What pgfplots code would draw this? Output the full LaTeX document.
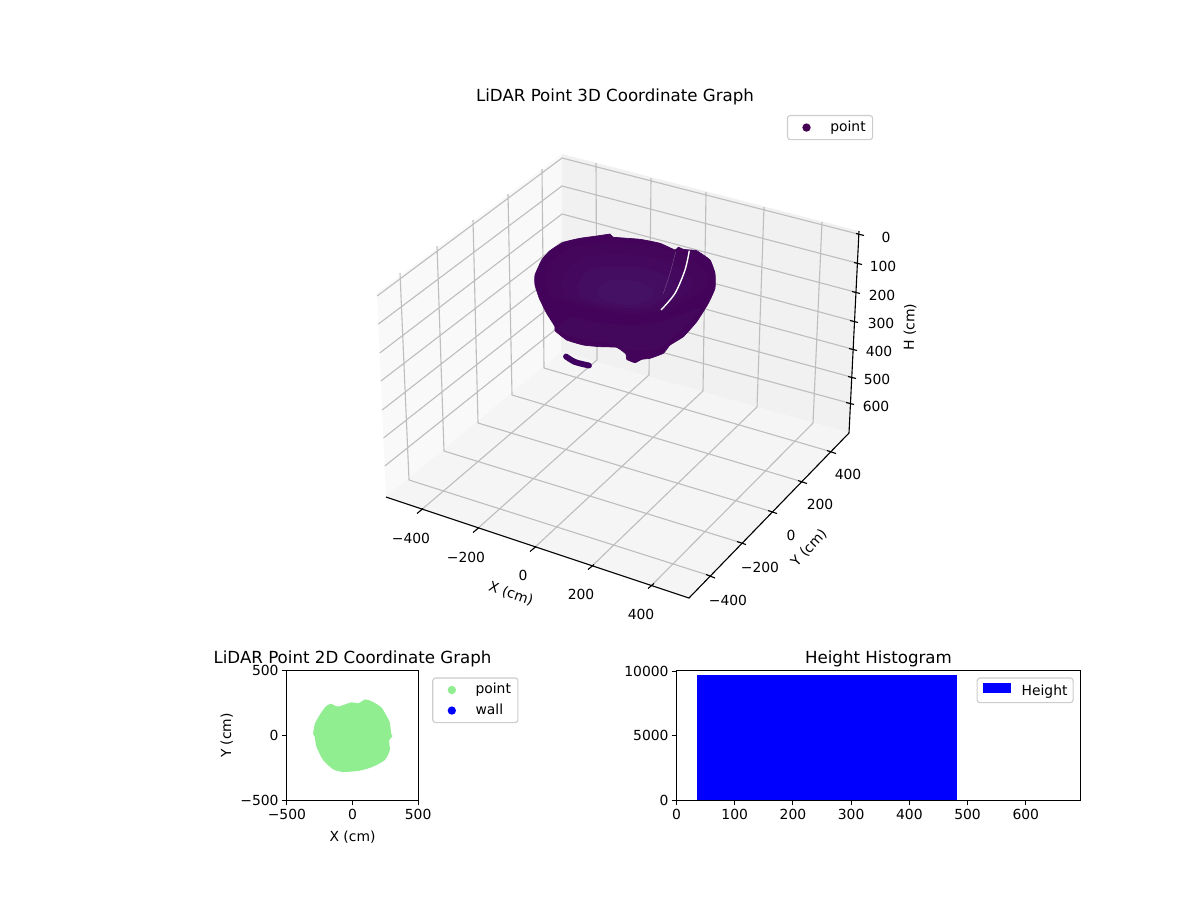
\documentclass[border=0pt]{standalone}
\usepackage{fontspec}
\usepackage{pgfplots}
\pgfplotsset{compat=1.18}
\setmainfont{DejaVu Sans}
\definecolor{vir}{HTML}{440154}
\definecolor{bodyc}{HTML}{43035A}
\definecolor{lowerc}{HTML}{43075C}
\definecolor{inA}{HTML}{43065B}
\definecolor{inB}{HTML}{44095E}
\definecolor{inC}{HTML}{450D61}
\definecolor{inD}{HTML}{451165}
\definecolor{gridc}{HTML}{BEBEBE}
\definecolor{paneL}{HTML}{F9F9F9}
\definecolor{paneR}{HTML}{F1F1F1}
\definecolor{paneF}{HTML}{F5F5F5}
\definecolor{lgreen}{HTML}{90EE90}
\newcommand{\ften}{\fontsize{10bp}{12bp}\selectfont}
\newcommand{\ftwelve}{\fontsize{12bp}{14bp}\selectfont}
\pgfplotsset{
  common/.style={
    scale only axis, clip=false,
    axis line style={line width=.8bp,black},
    tick style={line width=.8bp,black},
    major tick length=3.5bp, tick align=outside,
    xtick pos=bottom, ytick pos=left,
    scaled ticks=false,
    tick label style={font=\ften},
    label style={font=\ften},
    xticklabel style={yshift=0.6bp},
    yticklabel style={xshift=1.3bp},
    xlabel style={yshift=-1.4bp},
    ylabel style={yshift=-1.5bp},
    title style={font=\ftwelve, at={(0.5,1)}, anchor=base, yshift=-0.8bp},
  },
  dotlegend/.style={
    legend style={font=\ften, draw=black!20, line width=.8bp, rounded corners=2bp,
      fill=white, fill opacity=.8, text opacity=1,
      inner xsep=5bp, inner ysep=3.9bp,
      row sep=5.3bp, column sep=4bp, legend cell align=left,
      nodes={inner sep=0pt, text height=7.5bp, text depth=2bp}},
    legend image code/.code={\path[draw=none,fill=none] (0,0) -- (21.8bp,0); \fill[draw=none,fill opacity=1,##1] (8.7bp,0bp) circle (3bp);},
  },
}
\begin{document}
\begin{tikzpicture}
\path[use as bounding box] (0,0) rectangle (864bp,648bp);
% ---------- 3D panel, in projected picture coordinates ----------
\begin{axis}[
  at={(0,0)}, anchor=south west, scale only axis, width=864bp, height=648bp,
  xmin=0, xmax=1200, ymin=0, ymax=900, y dir=reverse, hide axis, clip=false,
  unbounded coords=jump,
]
% panes
\addplot[forget plot, fill=paneL, draw=none] coordinates {(377,293)(562,154)(561,352)(386,497)} -- cycle;
\addplot[forget plot, fill=paneR, draw=none] coordinates {(562,154)(859,231)(849,433)(561,352)} -- cycle;
\addplot[forget plot, fill=paneF, draw=none] coordinates {(386,497)(561,352)(849,433)(689,598)} -- cycle;
% grid
\addplot[forget plot, gridc, line width=.8bp] coordinates {
 (400,273)(409,480)(nan,nan)(437,246)(444,451)(nan,nan)(473,220)(478,423)(nan,nan)
 (508,194)(512,395)(nan,nan)(542,169)(544,368)(nan,nan)
 (596,163)(597,360)(nan,nan)(651,178)(649,375)(nan,nan)(706,192)(703,391)(nan,nan)
 (764,207)(757,407)(nan,nan)(822,222)(813,423)(nan,nan)
 (420,511)(597,360)(nan,nan)(476,530)(649,375)(nan,nan)(533,549)(703,391)(nan,nan)
 (591,567)(757,407)(nan,nan)(651,586)(813,423)(nan,nan)
 (409,480)(711,576)(nan,nan)(444,451)(742,543)(nan,nan)(478,423)(773,512)(nan,nan)
 (512,395)(803,482)(nan,nan)(544,368)(832,452)(nan,nan)
 (377.1,296)(562,158)(858,234)(nan,nan)
 (378.4,324)(562,186)(857,263)(nan,nan)
 (379.7,353)(562,214)(855,292)(nan,nan)
 (380.9,381)(561.8,242)(853,321)(nan,nan)
 (382.2,410)(561.6,270)(852,349)(nan,nan)
 (383.5,438)(561.4,298)(851,377)(nan,nan)
 (384.8,466)(561.2,325)(849,403)(nan,nan)
};
% axis lines
\addplot[forget plot, black, line width=.8bp] coordinates {(386,497)(689,598)(849,433)(nan,nan)(859,231)(849,433)};
% ticks
\addplot[forget plot, black, line width=.8bp] coordinates {
 (417,513.5)(423,508.5)(nan,nan)(473,532.5)(479,527.5)(nan,nan)(530,551.5)(536,546.5)(nan,nan)
 (588,569.5)(594,564.5)(nan,nan)(648,588.5)(654,583.5)(nan,nan)
 (706,574.5)(715,578)(nan,nan)(737,541.5)(746,544.5)(nan,nan)(768,510.5)(777,513.5)(nan,nan)
 (798,480.5)(807,483.5)(nan,nan)(827,450.5)(836,453.5)(nan,nan)
 (856,233.5)(864,235.5)(nan,nan)(854,262.5)(862,264.5)(nan,nan)(852,291.5)(860,293.5)(nan,nan)
 (850,320.5)(858,322.5)(nan,nan)(849,348.5)(857,350.5)(nan,nan)(848,376.5)(856,378.5)(nan,nan)
 (846,402.5)(854,404.5)
};
% point cloud silhouette
\addplot[forget plot, fill=bodyc, draw=bodyc, line width=.5bp, smooth, tension=.25] coordinates {
 (610,234)(596.7,236)(580,238.3)(563.3,242.3)(550,250.7)(541.7,260)(535,275)(535,285)
 (539.3,298.3)(546.7,313.3)(555,326.7)(555,330.7)(566.7,340)(583.3,345)(600,346.7)(616.7,347.3)
 (626,354)(626.7,359.3)(635,362.7)(641.7,359.3)(650,358.3)(663.3,353.3)(670,345)(683.3,336.7)
 (696.7,321.7)(708.3,303.3)(715,288.3)(715,273.3)(710,260)(696.7,250.7)(690,250)(683.3,249.3)
 (678.3,247.3)(675,250)(660,243.3)(640,239.3)(613.3,237.3)} -- cycle;
% lower body, slightly lighter
\addplot[forget plot, fill=lowerc, draw=none, smooth] coordinates {
 (557,328)(570,336)(600,342)(630,350)(655,350)(672,338)(690,322)(700,308)(672,318)(640,325)(600,323)(570,316)} -- cycle;
% bowl interior, nested layers
\addplot[forget plot, fill=inA, draw=none, smooth] coordinates {
 (545,277)(550,295)(573,303)(600,310)(630,314)(660,311)(677,305)(693,297)(707,287)(708,273)(687,257)(657,247)(613,243)(573,247)(553,260)} -- cycle;
\addplot[forget plot, fill=inB, draw=none, smooth] coordinates {
 (561,281.6)(565,296)(583.4,302.4)(605,308)(629,311.2)(653,308.8)(666.6,304)(679.4,297.6)(690.6,289.6)(691.4,278.4)(674.6,265.6)(650.6,257.6)(615.4,254.4)(583.4,257.6)(567.4,268)} -- cycle;
\addplot[forget plot, fill=inC, draw=none, smooth] coordinates {
 (577,286)(580,297)(594,302)(610,306)(628,308)(646,307)(656,303)(666,298)(674,292)(675,284)(662,274)(644,268)(618,266)(594,268)(582,276)} -- cycle;
\addplot[forget plot, fill=inD, draw=none, smooth] coordinates {
 (597,292)(600,298)(607,301)(616,303)(627,305)(637,304)(643,302)(649,299)(654,295)(654,291)(647,285)(636,281)(621,280)(607,281)(600,286)} -- cycle;
% gaps in the cloud
\addplot[forget plot, white, line width=1.0bp, smooth] coordinates {(689.3,250.7)(685,270)(675,293.3)(661,310)};
\addplot[forget plot, white!35!vir, line width=.25bp, smooth] coordinates {(675.7,251.7)(670,273.3)(663.3,293.3)};
% fragment below the bowl
\addplot[forget plot, vir!92!blue, line width=4.2bp, line cap=round, smooth] coordinates {(566,356.5)(575,362)(589,365.5)};
% text
\node[font=\ftwelve, anchor=base] at (axis cs:615,101) {LiDAR Point 3D Coordinate Graph};
\node[font=\ften] at (axis cs:411,538) {−400};
\node[font=\ften] at (axis cs:466,557) {−200};
\node[font=\ften] at (axis cs:523,575) {0};
\node[font=\ften] at (axis cs:581,594) {200};
\node[font=\ften] at (axis cs:641,614) {400};
\node[font=\ften] at (axis cs:728,600) {−400};
\node[font=\ften] at (axis cs:760,567) {−200};
\node[font=\ften] at (axis cs:791,535) {0};
\node[font=\ften] at (axis cs:820,504) {200};
\node[font=\ften] at (axis cs:848,474) {400};
\node[font=\ften] at (axis cs:886,237) {0};
\node[font=\ften] at (axis cs:883,266) {100};
\node[font=\ften] at (axis cs:882,295) {200};
\node[font=\ften] at (axis cs:881,323) {300};
\node[font=\ften] at (axis cs:879,351) {400};
\node[font=\ften] at (axis cs:877,379) {500};
\node[font=\ften] at (axis cs:876,406) {600};
\node[font=\ften, rotate=-19] at (axis cs:511,594) {X (cm)};
\node[font=\ften, rotate=47] at (axis cs:809,548) {Y (cm)};
\node[font=\ften, rotate=89] at (axis cs:910,327) {H (cm)};
\end{axis}
% ---------- legend of the 3D panel ----------
\begin{axis}[
  at={(566.6bp,547.2bp)}, anchor=south west, scale only axis, width=61.2bp, height=18bp,
  xmin=0, xmax=1, ymin=0, ymax=1, hide axis, dotlegend,
  legend style={at={(0,1)}, anchor=north west},
]
\addlegendimage{vir}
\addlegendentry{point}
\end{axis}
% ---------- 2D panel ----------
\begin{axis}[
  common, at={(206.28bp,71.64bp)}, anchor=south west, width=95.04bp, height=93.6bp,
  xmin=-503, xmax=503, ymin=-503, ymax=503,
  xtick={-500,0,500}, xticklabels={−500,0,500},
  ytick={-500,0,500}, yticklabels={−500,0,500},
  xlabel={X (cm)}, ylabel={Y (cm)},
  title={LiDAR Point 2D Coordinate Graph},
  dotlegend,
  legend style={at={(1.104,0.9466)}, anchor=north west},
]
\addlegendimage{lgreen}
\addlegendentry{point}
\addlegendimage{blue}
\addlegendentry{wall}
\addplot[forget plot, fill=lgreen, draw=none, smooth, tension=.4] coordinates {
 (-300,13)(-287,89)(-254,152)(-211,216)(-168,246)(-109,224)(-8,257)(43,249)(99,279)(157,259)
 (221,216)(259,152)(284,102)(295,13)(305,-5)(279,-38)(284,-114)(246,-190)(157,-241)(56,-272)
 (-71,-282)(-147,-262)(-224,-190)(-274,-89)(-287,-13)} -- cycle;
\end{axis}
% ---------- histogram ----------
\begin{axis}[
  common, at={(487.08bp,71.64bp)}, anchor=south west, width=290.88bp, height=93.6bp,
  xmin=0, xmax=694, ymin=0, ymax=10050,
  xtick={0,100,200,300,400,500,600},
  xticklabels={0,100,200,300,400,500,600},
  ytick={0,5000,10000}, yticklabels={0,5000,10000},
  title={Height Histogram},
  legend style={at={(0.983,0.9466)}, anchor=north east, font=\ften, draw=black!20, line width=.8bp,
    rounded corners=2bp, fill=white, fill opacity=.8, text opacity=1,
    inner xsep=4bp, inner ysep=3.4bp, column sep=8bp,
    nodes={inner sep=0pt, text height=7.5bp, text depth=2bp}},
  legend image code/.code={\fill[draw=none,sharp corners,fill opacity=1,#1] (0bp,-1bp) rectangle (20bp,6.2bp);},
]
\addplot[ybar interval, fill=blue, draw=none] coordinates {(36,9670)(481.5,9670)};
\addlegendentry{Height}
\end{axis}
\end{tikzpicture}
\end{document}
